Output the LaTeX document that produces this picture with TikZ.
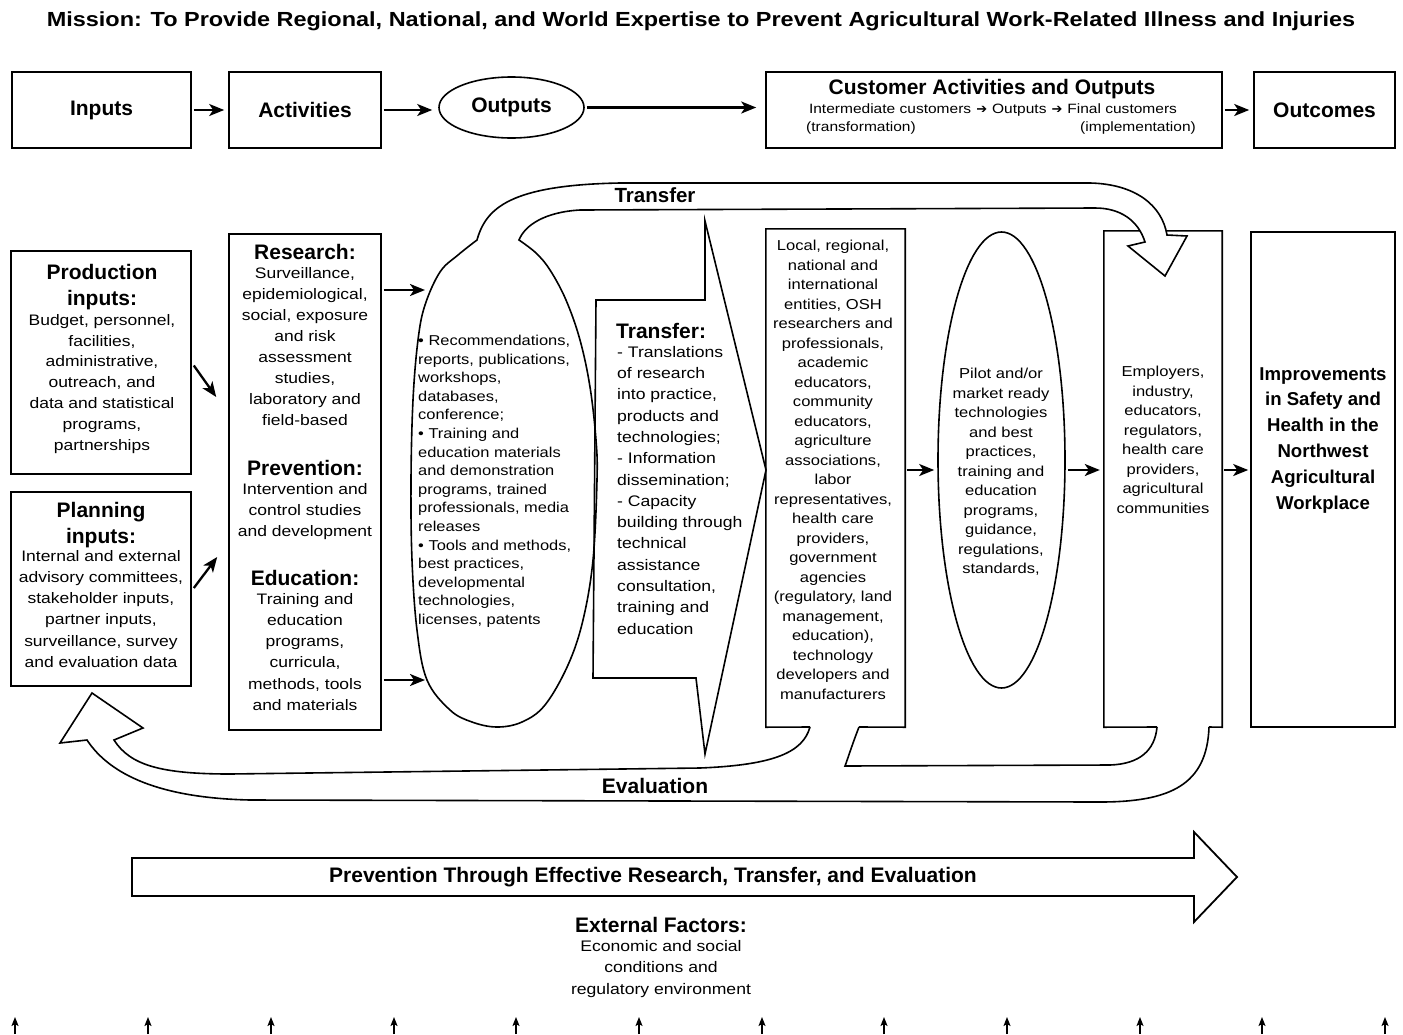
\documentclass[tikz,border=0pt]{standalone}
\usepackage{fontspec}
\setmainfont{Liberation Sans}
\newfontfamily\wide{Liberation Sans}[FakeStretch=1.15]
\newfontfamily\djv{DejaVu Sans}
\usetikzlibrary{arrows.meta,shapes.geometric}
\begin{document}
\begin{tikzpicture}[x=1pt,y=-1pt,
  ln/.style={line width=1.6pt},
  box/.style={draw, line width=1.6pt, inner sep=0},
  hd/.style={font=\fontsize{21}{26}\selectfont\bfseries, inner sep=0, align=center},
  bodytxt/.style={font=\wide\fontsize{15.2}{20.8}\selectfont, inner sep=0, align=center, anchor=north},
  smalltxt/.style={font=\wide\fontsize{14.4}{19.5}\selectfont, inner sep=0, align=center, anchor=north},
  arr/.style={-{Stealth[length=15pt,width=12pt,inset=4pt]}, line width=2.3pt},
  tk/.style={-{Stealth[length=9pt,width=7pt,inset=2pt]}, line width=1.4pt},
  bandl/.style={line width=1.6pt, line join=miter},
]
\useasboundingbox (0,0) rectangle (1403,1034);

% title
\node[font=\wide\bfseries\fontsize{20.4}{24}\selectfont, inner sep=0] (title) at (701,21) {Mission: To Provide Regional, National, and World Expertise to Prevent Agricultural Work-Related Illness and Injuries};

% top row
\node[box, hd, minimum width=179pt, minimum height=76pt] (inputs) at (101.5,110) {Inputs};
\node[box, hd, minimum width=152pt, minimum height=76pt] (actT) at (305,110) {Activities};
\node[box, hd, ellipse, minimum width=145pt, minimum height=61pt] (outputs) at (511.5,107.5) {Outputs};
\node[box, minimum width=456pt, minimum height=76pt] (cust) at (994,110) {};
\node[hd] (custT) at (992,89) {Customer Activities and Outputs};
\node[font=\wide\fontsize{13.5}{16}\selectfont, inner sep=0] (custL) at (993,110) {Intermediate customers\hspace{5pt}{\djv\fontsize{13}{15}\selectfont ➔}\hspace{5pt}Outputs\hspace{5pt}{\djv\fontsize{13}{15}\selectfont ➔}\hspace{5pt}Final customers};
\node[font=\wide\fontsize{13.5}{16}\selectfont, inner sep=0] (custA) at (861,128) {(transformation)};
\node[font=\wide\fontsize{13.5}{16}\selectfont, inner sep=0] (custB) at (1138,128) {(implementation)};
\node[box, hd, minimum width=141pt, minimum height=76pt] (outcomes) at (1324.5,110) {Outcomes};

% left boxes
\node[box, minimum width=180pt, minimum height=223pt] (prod) at (101,362.5) {};
\node[hd, anchor=north] (prodH) at (102,264.5) {Production\\inputs:};
\node[bodytxt] (prodB) at (102,314) {Budget, personnel,\\facilities,\\administrative,\\outreach, and\\data and statistical\\programs,\\partnerships};

\node[box, minimum width=180pt, minimum height=194pt] (plan) at (101,589) {};
\node[hd, anchor=north] (planH) at (101,502.5) {Planning\\inputs:};
\node[bodytxt, font=\wide\fontsize{15.2}{21.2}\selectfont] (planB) at (101,550) {Internal and external\\advisory committees,\\stakeholder inputs,\\partner inputs,\\surveillance, survey\\and evaluation data};

% activities
\node[box, minimum width=152pt, minimum height=496pt] (act) at (305,482) {};
\node[hd] (resH) at (305,252) {Research:};
\node[bodytxt, font=\wide\fontsize{15.2}{21}\selectfont] (resB) at (305,267) {Surveillance,\\epidemiological,\\social, exposure\\and risk\\assessment\\studies,\\laboratory and\\field-based};
\node[hd] (prevH) at (305,468) {Prevention:};
\node[bodytxt, font=\wide\fontsize{15.2}{21}\selectfont] (prevB) at (305,483) {Intervention and\\control studies\\and development};
\node[hd] (eduH) at (305,578) {Education:};
\node[bodytxt, font=\wide\fontsize{15.2}{21.2}\selectfont] (eduB) at (305,593) {Training and\\education\\programs,\\curricula,\\methods, tools\\and materials};

% right boxes
\node[minimum width=139pt, minimum height=498pt, inner sep=0] (local) at (835.5,478) {};
\draw[ln] (810,727) -- (local.south west) -- (local.north west) -- (local.north east) -- (local.south east) -- (859,727);
\node[smalltxt] (localT) at (833,240) {Local, regional,\\national and\\international\\entities, OSH\\researchers and\\professionals,\\academic\\educators,\\community\\educators,\\agriculture\\associations,\\labor\\representatives,\\health care\\providers,\\government\\agencies\\(regulatory, land\\management,\\education),\\technology\\developers and\\manufacturers};

\node[box, ellipse, minimum width=127pt, minimum height=456pt] (pilot) at (1001.5,460) {};
\node[smalltxt] (pilotT) at (1001,368) {Pilot and/or\\market ready\\technologies\\and best\\practices,\\training and\\education\\programs,\\guidance,\\regulations,\\standards,};

\node[minimum width=118pt, minimum height=496pt, inner sep=0] (emp) at (1163,479) {};
\draw[ln] (1157,727) -- (emp.south west) -- (emp.north west) -- (emp.north east) -- (emp.south east) -- (1209,727);
\node[smalltxt] (empT) at (1163,366) {Employers,\\industry,\\educators,\\regulators,\\health care\\providers,\\agricultural\\communities};

\node[box, minimum width=144pt, minimum height=495pt] (impr) at (1323,479.5) {};
\node[hd, anchor=north, font=\fontsize{18.6}{25.8}\selectfont\bfseries] (imprT) at (1323,367) {Improvements\\in Safety and\\Health in the\\Northwest\\Agricultural\\Workplace};

% outputs ellipse merged with transfer band
\draw[bandl, fill=white] plot[smooth, tension=0.6] coordinates {(519,240) (536,253) (550,270) (566,300) (580,340) (590,387) (596,440) (597,480) (593,560) (583,620) (568,665) (545,705) (522,722) (497,727) (472,722) (450,710) (427,680) (417,630) (412,560) (411,480) (413,400) (418,340) (425,305) (440,272) (458,255) (477,240)}
  .. controls (486,208) and (510,185) .. (620,183) -- (1090,183)
  .. controls (1135,184) and (1162,205) .. (1167,235) -- (1187,236) -- (1165,276) -- (1128,246) -- (1145,242)
  .. controls (1138,220) and (1120,208) .. (1095,208) -- (580,210)
  .. controls (545,212) and (525,225) .. (519,240) -- cycle;
\node[hd, font=\fontsize{20.5}{24}\selectfont\bfseries] (trLab) at (655,195) {Transfer};
\node[bodytxt, anchor=north west, align=left, font=\wide\fontsize{14.3}{18.6}\selectfont] (outT) at (418,335) {\textbullet{} Recommendations,\\reports, publications,\\workshops,\\databases,\\conference;\\\textbullet{} Training and\\education materials\\and demonstration\\programs, trained\\professionals, media\\releases\\\textbullet{} Tools and methods,\\best practices,\\developmental\\technologies,\\licenses, patents};

% transfer block arrow
\draw[ln, line join=miter] (596,300) -- (705,300) -- (705,221) -- (766,470) -- (705,754) -- (696,678) -- (593,678) -- cycle;
\node[hd, anchor=west] (trH) at (616,331) {Transfer:};
\node[bodytxt, anchor=north west, align=left, font=\wide\fontsize{15.3}{21.3}\selectfont] (trB) at (617,346) {- Translations\\of research\\into practice,\\products and\\technologies;\\- Information\\dissemination;\\- Capacity\\building through\\technical\\assistance\\consultation,\\training and\\education};

% evaluation band
\fill[white] (1209,727) .. controls (1207,785) and (1170,802) .. (1100,802) -- (250,800)
  .. controls (160,798) and (110,775) .. (87,740) -- (60,743) -- (92,693) -- (143,728) -- (114,740)
  .. controls (130,765) and (160,774) .. (230,774) -- (700,768)
  .. controls (775,765) and (803,752) .. (810,727) -- (859,727)
  .. controls (852,745) and (848,758) .. (845,766) -- (1110,765)
  .. controls (1140,764) and (1155,750) .. (1157,727) -- cycle;
\draw[bandl] (859,727) .. controls (852,745) and (848,758) .. (845,766) -- (1110,765)
  .. controls (1140,764) and (1155,750) .. (1157,727);
\draw[bandl] (1209,727) .. controls (1207,785) and (1170,802) .. (1100,802) -- (250,800)
  .. controls (160,798) and (110,775) .. (87,740) -- (60,743) -- (92,693) -- (143,728) -- (114,740)
  .. controls (130,765) and (160,774) .. (230,774) -- (700,768)
  .. controls (775,765) and (803,752) .. (810,727);
\node[hd] (evLab) at (655,786) {Evaluation};

% connectors
\draw[arr, shorten <=2pt, shorten >=4pt] (inputs) -- (actT);
\draw[arr, shorten <=2pt, shorten >=6pt] (actT.east) -- (actT.east -| outputs.west);
\draw[arr, shorten <=2pt, shorten >=9pt] (outputs.east) -- (outputs.east -| cust.west);
\draw[arr, shorten <=2pt, shorten >=4pt] (cust) -- (outcomes);

\draw[arr] ([shift={(2pt,-3pt)}]prod.east) -- ([shift={(-12pt,85pt)}]act.west);
\draw[arr] ([shift={(2pt,1pt)}]plan.east) -- ([shift={(-11pt,-75pt)}]act.west);
\coordinate (ellA) at (425,290);
\coordinate (ellB) at (425,680);
\draw[arr, shorten <=2pt] (act.east |- ellA) -- (ellA);
\draw[arr, shorten <=2pt] (act.east |- ellB) -- (ellB);

\draw[arr, shorten <=2pt, shorten >=3pt] ([yshift=8pt]local.east) -- ([yshift=8pt]local.east -| pilot.west);
\draw[arr, shorten <=2pt, shorten >=4pt] ([yshift=8pt]local.east -| pilot.east) -- ([yshift=8pt]local.east -| emp.west);
\draw[arr, shorten <=2pt, shorten >=2pt] ([yshift=8pt]local.east -| emp.east) -- ([yshift=8pt]local.east -| impr.west);

% bottom big arrow
\draw[bandl, line width=1.8pt] (132,858) -- (1194,858) -- (1194,832) -- (1237,877) -- (1194,922) -- (1194,896) -- (132,896) -- cycle;
\node[font=\bfseries\fontsize{21}{24}\selectfont, inner sep=0] (prevArrow) at (653,877) {Prevention Through Effective Research, Transfer, and Evaluation};

% external factors
\node[hd] (extH) at (661,925) {External Factors:};
\node[bodytxt, font=\wide\fontsize{15.3}{21.5}\selectfont] (extB) at (661,940) {Economic and social\\conditions and\\regulatory environment};

\foreach \xx in {15,148,271,394,516,639,762,884,1007,1140,1262,1385}
  \draw[tk] (\xx,1034) -- (\xx,1017);
\end{tikzpicture}
\end{document}
